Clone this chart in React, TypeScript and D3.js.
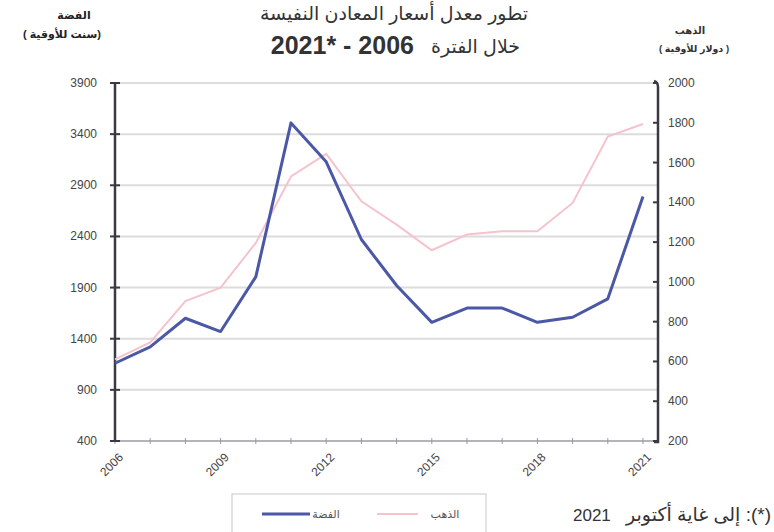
import * as d3 from "d3";

const years = [2006, 2007, 2008, 2009, 2010, 2011, 2012, 2013, 2014, 2015, 2016, 2017, 2018, 2019, 2020, 2021];
// الفضة (سنت للأوقية) - left axis
const silver = [1160, 1320, 1600, 1470, 2005, 3510, 3130, 2370, 1920, 1560, 1700, 1700, 1560, 1610, 1790, 2790];
// الذهب (دولار للأوقية) - right axis
const gold = [610, 696, 903, 971, 1196, 1530, 1644, 1405, 1288, 1159, 1238, 1254, 1254, 1397, 1731, 1794];

const leftTicks = [400, 900, 1400, 1900, 2400, 2900, 3400, 3900];
const rightTicks = [200, 400, 600, 800, 1000, 1200, 1400, 1600, 1800, 2000];
const yearLabels = [2006, 2009, 2012, 2015, 2018, 2021];

const titleLine1 = "تطور معدل أسعار المعادن النفيسة";
const titleLine2Ar = "خلال الفترة";
const titleLine2Num = "2021* - 2006";
const leftTitle = ["الفضة", "(سنت للأوقية )"];
const rightTitle = ["الذهب", "( دولار للأوقية )"];
const legendNames = ["الفضة", "الذهب"];
const footnoteAr = "(*): إلى غاية أكتوبر";
const footnoteYear = "2021";

const font = "'Liberation Sans', Arial, 'DejaVu Sans', sans-serif";

export default function App() {
  const x0 = 115;
  const xFrameEnd = 658;
  const yTop = 83;
  const yBottom = 441;

  const xScale = d3.scaleLinear().domain([2006, 2021]).range([x0, 643]);
  const yLeft = d3.scaleLinear().domain([400, 3900]).range([yBottom, yTop]);
  const yRight = d3.scaleLinear().domain([200, 2000]).range([yBottom, yTop]);

  const silverLine = d3.line<number>()
    .x((_, i) => xScale(years[i]))
    .y((v) => yLeft(v))(silver);
  const goldLine = d3.line<number>()
    .x((_, i) => xScale(years[i]))
    .y((v) => yRight(v))(gold);

  const silverColor = "#4a58a6";
  const goldColor = "#f5c3cc";
  const axisColor = "#3a3a44";

  return (
    <svg width={774} height={532} style={{ position: "absolute", left: 0, top: 0, background: "#fff" }} fontFamily={font}>
      {/* titles */}
      <text x={394} y={20} fontSize={19} textAnchor="middle" fill="#333" direction="rtl">{titleLine1}</text>
      <text x={414} y={54} fontSize={25} fontWeight="bold" textAnchor="end" fill="#333">{titleLine2Num}</text>
      <text x={520} y={53} fontSize={19} textAnchor="start" fill="#333" direction="rtl">{titleLine2Ar}</text>

      <text x={74} y={19} fontSize={11} fontWeight="bold" textAnchor="middle" fill="#222" direction="rtl">{leftTitle[0]}</text>
      <text x={62} y={38} fontSize={11} fontWeight="bold" textAnchor="middle" fill="#222" direction="rtl">{leftTitle[1]}</text>
      <text x={690} y={34} fontSize={10} fontWeight="bold" textAnchor="middle" fill="#333" direction="rtl">{rightTitle[0]}</text>
      <text x={694} y={52} fontSize={9.5} fontWeight="bold" textAnchor="middle" fill="#333" direction="rtl">{rightTitle[1]}</text>

      {/* grid */}
      {leftTicks.slice(1).map((t) => (
        <line key={"g" + t} x1={x0} x2={xFrameEnd} y1={yLeft(t)} y2={yLeft(t)} stroke="#dcdcdc" strokeWidth={2} />
      ))}

      {/* x axis */}
      <line x1={x0} x2={xFrameEnd} y1={yBottom} y2={yBottom} stroke="#9a9aa2" strokeWidth={1.5} />
      {years.map((y) => (
        <line key={"xt" + y} x1={xScale(y)} x2={xScale(y)} y1={yBottom - 3} y2={yBottom + 3} stroke="#9a9aa2" strokeWidth={1} />
      ))}
      {yearLabels.map((y) => (
        <text key={"xl" + y} fontSize={12} fill="#444" textAnchor="end"
          transform={`translate(${xScale(y) + 9},${yBottom + 17}) rotate(-45)`}>{y}</text>
      ))}

      {/* left axis */}
      <line x1={x0} x2={x0} y1={yTop} y2={yBottom} stroke={axisColor} strokeWidth={2.5} />
      {leftTicks.map((t) => (
        <g key={"lt" + t}>
          <line x1={x0 - 5} x2={x0 + 5} y1={yLeft(t)} y2={yLeft(t)} stroke={axisColor} strokeWidth={2} />
          <text x={97} y={yLeft(t) + 4} fontSize={12} textAnchor="end" fill="#444">{t}</text>
        </g>
      ))}

      {/* right axis */}
      <path d={`M ${xFrameEnd - 4} ${yTop - 2} Q ${xFrameEnd} ${yTop - 1} ${xFrameEnd} ${yTop + 4} V ${yBottom + 1} H ${xFrameEnd - 4}`} fill="none" stroke={axisColor} strokeWidth={2.5} />
      {rightTicks.map((t) => (
        <g key={"rt" + t}>
          <line x1={xFrameEnd - 5} x2={xFrameEnd} y1={yRight(t)} y2={yRight(t)} stroke={axisColor} strokeWidth={2} />
          <text x={668} y={yRight(t) + 4} fontSize={12} textAnchor="start" fill="#444">{t}</text>
        </g>
      ))}

      {/* series */}
      <path d={goldLine ?? ""} fill="none" stroke={goldColor} strokeWidth={2} />
      <path d={silverLine ?? ""} fill="none" stroke={silverColor} strokeWidth={3} strokeLinejoin="round" />

      {/* legend */}
      <rect x={232} y={494} width={254} height={44} fill="#fff" stroke="#c8c8c8" strokeWidth={1} />
      <line x1={262} x2={310} y1={514} y2={514} stroke={silverColor} strokeWidth={3} />
      <text x={326} y={518} fontSize={11} textAnchor="middle" fill="#555" direction="rtl">{legendNames[0]}</text>
      <line x1={377} x2={418} y1={514} y2={514} stroke={goldColor} strokeWidth={2} />
      <text x={445} y={518} fontSize={11} textAnchor="middle" fill="#555" direction="rtl">{legendNames[1]}</text>

      {/* footnote */}
      <text x={573} y={521} fontSize={17} textAnchor="start" fill="#333">{footnoteYear}</text>
      <text x={771} y={521} fontSize={19} textAnchor="start" direction="rtl" fill="#333">{footnoteAr}</text>
    </svg>
  );
}
